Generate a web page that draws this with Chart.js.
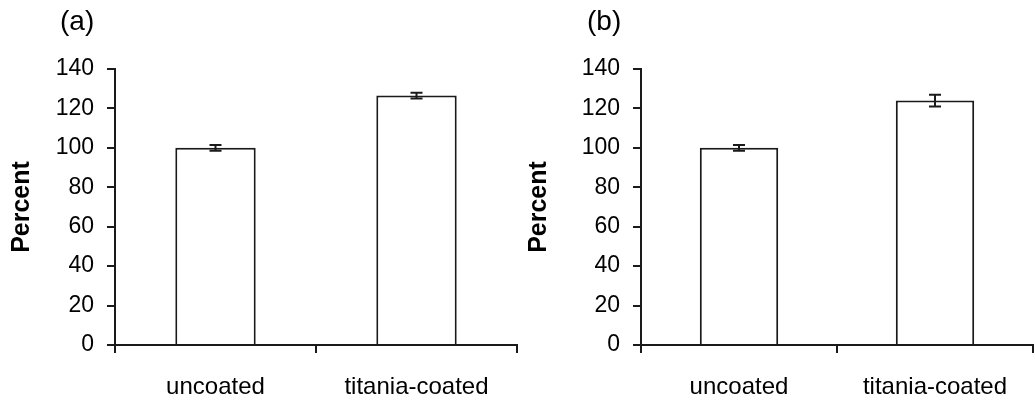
<!DOCTYPE html>
<html>
<head>
<meta charset="utf-8">
<script src="https://cdn.jsdelivr.net/npm/chart.js@4.4.1/dist/chart.umd.min.js"></script>
<style>
  body { margin: 0; background: #fff; }
  .panel { position: absolute; top: 0; height: 400px; }
  .letter { position: absolute; top: 5px; font: 28px 'Liberation Sans', Arial, sans-serif; color: #000; }
</style>
</head>
<body>
<div class="panel" style="left:0;width:520px;"><canvas id="chartA" width="520" height="400"></canvas></div>
<div class="panel" style="left:517px;width:518px;"><canvas id="chartB" width="518" height="400"></canvas></div>
<div class="letter" style="left:60px;">(a)</div>
<div class="letter" style="left:587px;">(b)</div>
<script>
var categories = ['uncoated', 'titania-coated'];
var yTicks = [0, 20, 40, 60, 80, 100, 120, 140];

var valuesA = [100, 126.5];
var errorsA = [1.5, 1.5];

var valuesB = [100, 124];
var errorsB = [1.5, 3];

var ink = '#1a1a1a';
var fontName = "'Liberation Sans', Arial, sans-serif";

// error bars drawn over each bar, through the y scale
var errorBars = {
    id: 'errorBars',
    afterDatasetsDraw: function(chart) {
        var ctx = chart.ctx;
        var yScale = chart.scales.y;
        var meta = chart.getDatasetMeta(0);
        var errs = chart.data.datasets[0].errors;
        ctx.save();
        ctx.strokeStyle = ink;
        ctx.lineWidth = 2;
        meta.data.forEach(function(bar, i) {
            var v = chart.data.datasets[0].data[i];
            var top = yScale.getPixelForValue(v + errs[i]);
            var bottom = yScale.getPixelForValue(v - errs[i]);
            ctx.beginPath();
            ctx.moveTo(bar.x, top);
            ctx.lineTo(bar.x, bottom);
            ctx.moveTo(bar.x - 6, top);
            ctx.lineTo(bar.x + 6, top);
            ctx.moveTo(bar.x - 6, bottom);
            ctx.lineTo(bar.x + 6, bottom);
            ctx.stroke();
        });
        ctx.restore();
    }
};

function makeChart(id, values, errors, yWidth, rightPad) {
    return new Chart(document.getElementById(id), {
        type: 'bar',
        data: {
            labels: categories,
            datasets: [{
                data: values,
                errors: errors,
                backgroundColor: '#fff',
                borderColor: ink,
                borderWidth: 2,
                barPercentage: 0.4,
                categoryPercentage: 1
            }]
        },
        options: {
            responsive: false,
            animation: false,
            layout: { padding: { top: 69, right: rightPad, bottom: 0, left: 0 } },
            plugins: { legend: { display: false }, tooltip: { enabled: false } },
            scales: {
                x: {
                    afterFit: function(s) { s.height = 55; },
                    grid: { drawOnChartArea: false, offset: true, tickLength: 8, color: ink, lineWidth: 2 },
                    border: { color: ink, width: 2 },
                    ticks: { font: { family: fontName, size: 24 }, color: '#000', padding: 20 }
                },
                y: {
                    min: yTicks[0],
                    max: yTicks[yTicks.length - 1],
                    afterFit: function(s) { s.width = yWidth; },
                    afterBuildTicks: function(s) { s.ticks = yTicks.map(function(v) { return { value: v }; }); },
                    grid: { drawOnChartArea: false, tickLength: 8, color: ink, lineWidth: 2 },
                    border: { color: ink, width: 2 },
                    ticks: { font: { family: fontName, size: 23 }, color: '#000', padding: 13 },
                    title: {
                        display: true,
                        text: 'Percent',
                        color: '#000',
                        font: { family: fontName, size: 25, weight: 'bold' },
                        padding: { top: 7, bottom: 4 }
                    }
                }
            }
        },
        plugins: [errorBars]
    });
}

makeChart('chartA', valuesA, errorsA, 115, 3);
makeChart('chartB', valuesB, errorsB, 124, 2);
</script>
</body>
</html>
